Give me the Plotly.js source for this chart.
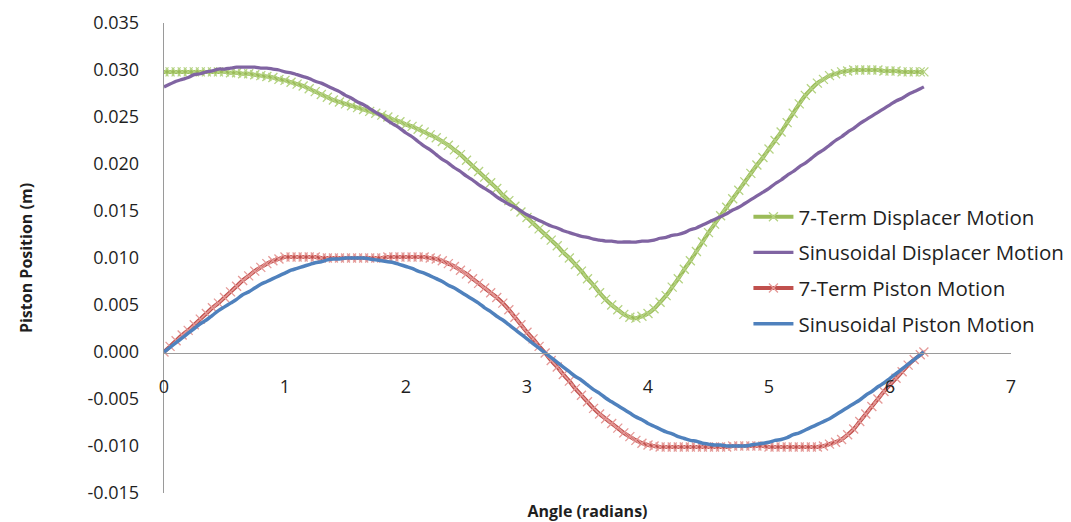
<!DOCTYPE html>
<html>
<head>
<meta charset="utf-8">
<script src="https://cdn.plot.ly/plotly-3.0.1.min.js"></script>
<style>html,body{margin:0;padding:0;background:#fff;}#chart{width:1071px;height:522px;}</style>
</head>
<body>
<div id="chart"></div>
<script>
// Angle (radians)
const angle = [
0.00,0.05,0.10,0.15,0.20,0.25,0.30,0.35,0.40,0.45,0.50,0.55,0.60,0.65,0.70,0.75,0.80,0.85,0.90,0.95,
1.00,1.05,1.10,1.15,1.20,1.25,1.30,1.35,1.40,1.45,1.50,1.55,1.60,1.65,1.70,1.75,1.80,1.85,1.90,1.95,
2.00,2.05,2.10,2.15,2.20,2.25,2.30,2.35,2.40,2.45,2.50,2.55,2.60,2.65,2.70,2.75,2.80,2.85,2.90,2.95,
3.00,3.05,3.10,3.15,3.20,3.25,3.30,3.35,3.40,3.45,3.50,3.55,3.60,3.65,3.70,3.75,3.80,3.85,3.90,3.95,
4.00,4.05,4.10,4.15,4.20,4.25,4.30,4.35,4.40,4.45,4.50,4.55,4.60,4.65,4.70,4.75,4.80,4.85,4.90,4.95,
5.00,5.05,5.10,5.15,5.20,5.25,5.30,5.35,5.40,5.45,5.50,5.55,5.60,5.65,5.70,5.75,5.80,5.85,5.90,5.95,
6.00,6.05,6.10,6.15,6.20,6.25,6.28];

const sevenTermDisplacer = [
0.0298,0.0298,0.0298,0.0298,0.0298,0.0298,0.0298,0.0298,0.0298,0.0298,0.0298,0.0297,0.0297,0.0296,0.0296,0.0295,0.0294,0.0293,0.0292,0.0290,
0.0289,0.0287,0.0285,0.0283,0.0280,0.0277,0.0274,0.0271,0.0268,0.0266,0.0264,0.0262,0.0260,0.0258,0.0256,0.0254,0.0252,0.0250,0.0247,0.0245,
0.0242,0.0240,0.0237,0.0234,0.0231,0.0228,0.0224,0.0220,0.0215,0.0210,0.0204,0.0198,0.0192,0.0186,0.0180,0.0174,0.0167,0.0161,0.0155,0.0149,
0.0143,0.0137,0.0131,0.0125,0.0119,0.0113,0.0106,0.0100,0.0093,0.0086,0.0078,0.0071,0.0063,0.0056,0.0050,0.0045,0.0040,0.0037,0.0036,0.0038,
0.0041,0.0046,0.0053,0.0060,0.0069,0.0078,0.0088,0.0097,0.0107,0.0117,0.0127,0.0136,0.0145,0.0154,0.0163,0.0172,0.0181,0.0190,0.0199,0.0207,
0.0216,0.0225,0.0234,0.0244,0.0254,0.0264,0.0273,0.0280,0.0286,0.0290,0.0294,0.0296,0.0298,0.0299,0.0300,0.0300,0.0300,0.0300,0.0300,0.0299,
0.0299,0.0299,0.0298,0.0298,0.0298,0.0298,0.0298];

const sinusoidalDisplacer = [
0.0282,0.0285,0.0288,0.0290,0.0292,0.0295,0.0296,0.0298,0.0299,0.0301,0.0301,0.0302,0.0303,0.0303,0.0303,0.0303,0.0302,0.0302,0.0301,0.0300,
0.0298,0.0297,0.0295,0.0293,0.0291,0.0288,0.0286,0.0283,0.0280,0.0277,0.0273,0.0270,0.0266,0.0263,0.0259,0.0255,0.0251,0.0246,0.0242,0.0238,
0.0233,0.0229,0.0224,0.0219,0.0215,0.0210,0.0205,0.0201,0.0196,0.0192,0.0187,0.0183,0.0178,0.0174,0.0170,0.0165,0.0161,0.0157,0.0154,0.0150,
0.0146,0.0143,0.0140,0.0137,0.0134,0.0132,0.0129,0.0127,0.0125,0.0123,0.0122,0.0120,0.0119,0.0118,0.0118,0.0117,0.0117,0.0117,0.0117,0.0118,
0.0118,0.0119,0.0121,0.0122,0.0124,0.0125,0.0127,0.0130,0.0132,0.0135,0.0138,0.0141,0.0144,0.0147,0.0151,0.0154,0.0158,0.0162,0.0166,0.0170,
0.0174,0.0179,0.0183,0.0188,0.0192,0.0197,0.0201,0.0206,0.0211,0.0215,0.0220,0.0225,0.0229,0.0234,0.0238,0.0243,0.0247,0.0251,0.0255,0.0259,
0.0263,0.0267,0.0270,0.0274,0.0277,0.0280,0.0282];

const sevenTermPiston = [
0.0000,0.0006,0.0012,0.0018,0.0023,0.0029,0.0035,0.0041,0.0047,0.0052,0.0058,0.0064,0.0070,0.0076,0.0081,0.0086,0.0090,0.0094,0.0097,0.0099,
0.0101,0.0101,0.0101,0.0101,0.0101,0.0101,0.0100,0.0100,0.0100,0.0100,0.0100,0.0100,0.0100,0.0100,0.0100,0.0100,0.0100,0.0101,0.0101,0.0101,
0.0101,0.0101,0.0101,0.0101,0.0100,0.0099,0.0097,0.0094,0.0091,0.0087,0.0083,0.0078,0.0073,0.0068,0.0063,0.0058,0.0052,0.0045,0.0037,0.0029,
0.0021,0.0014,0.0006,-0.0001,-0.0009,-0.0016,-0.0024,-0.0031,-0.0039,-0.0046,-0.0053,-0.0060,-0.0066,-0.0071,-0.0076,-0.0081,-0.0086,-0.0090,-0.0094,-0.0097,
-0.0099,-0.0100,-0.0101,-0.0101,-0.0101,-0.0101,-0.0101,-0.0101,-0.0101,-0.0101,-0.0101,-0.0101,-0.0101,-0.0101,-0.0100,-0.0100,-0.0100,-0.0100,-0.0100,-0.0100,
-0.0101,-0.0101,-0.0101,-0.0101,-0.0101,-0.0101,-0.0101,-0.0101,-0.0101,-0.0100,-0.0098,-0.0096,-0.0093,-0.0088,-0.0082,-0.0074,-0.0066,-0.0058,-0.0050,-0.0042,
-0.0035,-0.0028,-0.0021,-0.0014,-0.0008,-0.0003,0.0000];

const sinusoidalPiston = [
0.0000,0.0005,0.0010,0.0015,0.0020,0.0025,0.0030,0.0034,0.0039,0.0044,0.0048,0.0052,0.0056,0.0061,0.0064,0.0068,0.0072,0.0075,0.0078,0.0081,
0.0084,0.0087,0.0089,0.0091,0.0093,0.0095,0.0096,0.0098,0.0099,0.0099,0.0100,0.0100,0.0100,0.0100,0.0099,0.0098,0.0097,0.0096,0.0095,0.0093,
0.0091,0.0089,0.0086,0.0084,0.0081,0.0078,0.0075,0.0071,0.0068,0.0064,0.0060,0.0056,0.0052,0.0047,0.0043,0.0038,0.0034,0.0029,0.0024,0.0019,
0.0014,0.0009,0.0004,-0.0001,-0.0006,-0.0011,-0.0016,-0.0021,-0.0026,-0.0030,-0.0035,-0.0040,-0.0044,-0.0049,-0.0053,-0.0057,-0.0061,-0.0065,-0.0069,-0.0072,
-0.0076,-0.0079,-0.0082,-0.0085,-0.0087,-0.0090,-0.0092,-0.0094,-0.0095,-0.0097,-0.0098,-0.0099,-0.0099,-0.0100,-0.0100,-0.0100,-0.0100,-0.0099,-0.0098,-0.0097,
-0.0096,-0.0094,-0.0093,-0.0091,-0.0088,-0.0086,-0.0083,-0.0080,-0.0077,-0.0074,-0.0071,-0.0067,-0.0063,-0.0059,-0.0055,-0.0051,-0.0046,-0.0042,-0.0037,-0.0033,
-0.0028,-0.0023,-0.0018,-0.0013,-0.0008,-0.0003,0.0000];

const seriesNames = ['7-Term Displacer Motion','Sinusoidal Displacer Motion','7-Term Piston Motion','Sinusoidal Piston Motion'];
const xTicks = [0,1,2,3,4,5,6,7];
const yTicks = [-0.015,-0.010,-0.005,0.000,0.005,0.010,0.015,0.020,0.025,0.030,0.035];

const FONT = '"Open Sans", "Noto Sans", sans-serif';
const TXT = '#1f1f1f';

const traces = [
  {x: angle, y: sevenTermDisplacer, name: seriesNames[0], legendgroup: 'a', type: 'scatter', mode: 'lines+markers',
   line: {color: '#9BBB59', width: 4, shape: 'spline'},
   marker: {symbol: 'x-thin', size: 9, line: {color: '#B5D383', width: 1.3}, color: '#B5D383'}},
  {x: angle, y: sinusoidalDisplacer, name: seriesNames[1], legendgroup: 'b', type: 'scatter', mode: 'lines',
   line: {color: '#8064A2', width: 3.3, shape: 'spline'}},
  {x: angle, y: sevenTermPiston, name: seriesNames[2], legendgroup: 'c', type: 'scatter', mode: 'lines+markers',
   line: {color: '#C0504D', width: 4, shape: 'spline'},
   marker: {symbol: 'x-thin', size: 9, line: {color: '#E59A98', width: 1.3}, color: '#E59A98'}},
  {x: angle, y: sinusoidalPiston, name: seriesNames[3], legendgroup: 'd', type: 'scatter', mode: 'lines',
   line: {color: '#4F81BD', width: 3.5, shape: 'spline'}}
];

const layout = {
  width: 1071, height: 522,
  margin: {l: 164, r: 60, t: 23, b: 29, autoexpand: false},
  paper_bgcolor: '#ffffff', plot_bgcolor: '#ffffff',
  font: {family: FONT, color: TXT, size: 18},
  showlegend: true,
  legend: {x: 0.69, y: 0.63, xanchor: 'left', yanchor: 'top', traceorder: 'grouped', tracegroupgap: 6,
           font: {family: FONT, size: 20.5, color: TXT}, itemwidth: 40, bgcolor: 'rgba(0,0,0,0)'},
  xaxis: {
    range: [0, 7], tickvals: xTicks, ticktext: xTicks.map(String),
    showgrid: false, zeroline: false, showline: true, linecolor: '#9a9a9a', linewidth: 1.3,
    anchor: 'free', position: 0.298,
    ticks: 'outside', ticklen: 17, tickcolor: 'rgba(0,0,0,0)',
    tickfont: {family: FONT, size: 18, color: TXT},
    title: {text: '<b>Angle (radians)</b>', font: {family: FONT, size: 16, color: TXT}, standoff: 110}
  },
  yaxis: {
    range: [-0.015, 0.035], tickvals: yTicks, ticktext: yTicks.map(v => v.toFixed(3)),
    showgrid: false, zeroline: false, showline: true, linecolor: '#9a9a9a', linewidth: 1.3,
    ticks: 'outside', ticklen: 20, tickcolor: 'rgba(0,0,0,0)',
    tickfont: {family: FONT, size: 18, color: TXT},
    title: {text: '<b>Piston Position (m)</b>', font: {family: FONT, size: 16, color: TXT}, standoff: 50}
  }
};

Plotly.newPlot('chart', traces, layout, {displayModeBar: false, staticPlot: true});
</script>
</body>
</html>
